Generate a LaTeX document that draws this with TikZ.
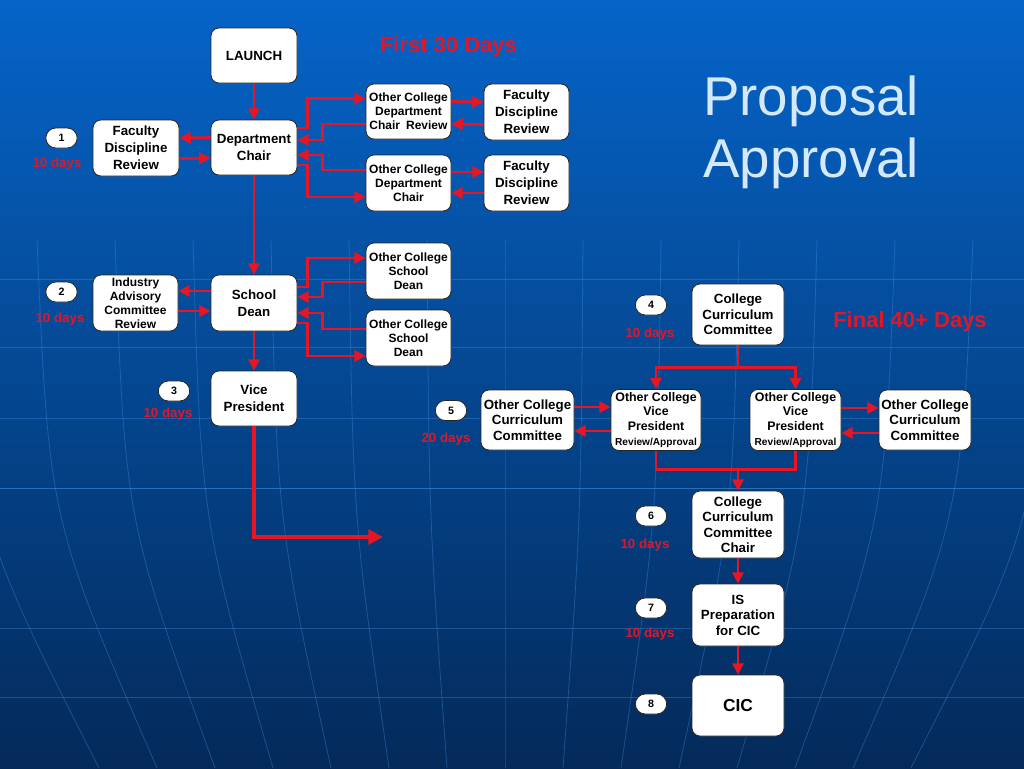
\documentclass[tikz,border=0pt]{standalone}
\usepackage{fontspec}
\setmainfont{Liberation Sans}
\usetikzlibrary{arrows.meta,calc}
\definecolor{bgtop}{RGB}{5,100,200}
\definecolor{bgmid}{RGB}{8,78,160}
\definecolor{bgbot}{RGB}{4,42,90}
\definecolor{gridc}{RGB}{70,150,235}
\definecolor{linered}{RGB}{232,22,36}
\definecolor{dayred}{RGB}{222,24,40}
\definecolor{titlec}{RGB}{212,234,252}
\begin{document}
\begin{tikzpicture}[x=0.75pt,y=-0.75pt,
  sz/.style 2 args={minimum width={#1*0.75pt},minimum height={#2*0.75pt}},
  box/.style={draw=black!85, line width=0.6pt, fill=white, rounded corners=6pt, inner sep=0pt, align=center, text=black, font=\bfseries\fontsize{10}{12.75}\selectfont},
  sbox/.style={box, font=\bfseries\fontsize{9}{10.5}\selectfont},
  rbox/.style={box, font=\bfseries\fontsize{10}{11.6}\selectfont},
  vbox/.style={box, font=\bfseries\fontsize{9.3}{11.2}\selectfont},
  bub/.style={draw=black!85, line width=0.6pt, fill=white, rounded corners=7.5pt, minimum width=23.5pt, minimum height=15pt, inner sep=0pt, text=black, font=\bfseries\fontsize{8}{9}\selectfont},
  days/.style={text=dayred, font=\bfseries\fontsize{10}{12}\selectfont, inner sep=0pt},
  phase/.style={text=dayred, font=\bfseries\fontsize{16.5}{18}\selectfont, inner sep=0pt},
  ttl/.style={font=\fontsize{41}{46}\selectfont, inner sep=0pt, anchor=base west},
  arr/.style={draw=linered, line width=2pt, -{Triangle[length=8.5pt,width=8.5pt]}},
  ln/.style={draw=linered, line width=2pt},
  bigarr/.style={draw=linered, line width=3pt, -{Triangle[length=11pt,width=11pt]}},
  gridl/.style={draw=gridc, line width=0.6pt, opacity=0.35},
]
\useasboundingbox (0,0) rectangle (1024,768);
% background
\shade[top color=bgtop, middle color=bgmid, bottom color=bgbot] (0,0) rectangle (1024,768);
\begin{scope}
\clip (0,0) rectangle (1024,768);
\foreach \yy in {279,347,418,628,697} {\draw[gridl] (0,\yy) -- (1024,\yy);}
\draw[gridl, opacity=0.55] (0,488) -- (1024,488);
\foreach \i in {-7,...,7} {
  \draw[gridl] ({505+78*\i},240) .. controls ({505+76*\i},520) .. ({505+58*\i},768);
}
\end{scope}
% title
\node[ttl, text=titlec] (t1) at (703,115) {Proposal};
\node[ttl, text=titlec] (t2) at (703,177) {Approval};
% phase labels
\node[phase, anchor=base] (p1) at (448.5,52) {First 30 Days};
\node[phase, anchor=base] (p2) at (910,327) {Final 40+ Days};
% left column
\node[box, sz={86}{55}] (launch) at (254,55.5) {LAUNCH};
\node[box, sz={86}{55}] (dept) at (254,147.5) {Department\\Chair};
\node[box, sz={86}{56}] (fdrL) at (136,148) {Faculty\\Discipline\\Review};
\node[sbox, sz={85}{55}] (ocdcr) at (408.5,111.5) {Other College\\Department\\Chair\enspace Review};
\node[box, sz={85}{56}] (fdr1) at (526.5,112) {Faculty\\Discipline\\Review};
\node[sbox, sz={85}{56}] (ocdc) at (408.5,183) {Other College\\Department\\Chair};
\node[box, sz={85}{56}] (fdr2) at (526.5,183) {Faculty\\Discipline\\Review};
\node[box, sz={86}{56}] (sdean) at (254,303) {School\\Dean};
\node[sbox, sz={85}{56}] (iacr) at (135.5,303) {Industry\\Advisory\\Committee\\Review};
\node[sbox, sz={85}{56}] (ocsd1) at (408.5,271) {Other College\\School\\Dean};
\node[sbox, sz={85}{56}] (ocsd2) at (408.5,338) {Other College\\School\\Dean};
\node[box, sz={86}{55}] (vp) at (254,398.5) {Vice\\President};
% right part
\node[rbox, sz={92}{61}] (ccc) at (738,314.5) {College\\Curriculum\\Committee};
\node[rbox, sz={93}{60}] (occcL) at (527.5,420) {Other College\\Curriculum\\Committee};
\node[vbox, sz={90}{61}] (vpL) at (656,420) {Other College\\Vice\\President\\{\fontsize{7.6}{9}\selectfont Review/Approval}};
\node[vbox, sz={91}{61}] (vpR) at (795.5,420) {Other College\\Vice\\President\\{\fontsize{7.6}{9}\selectfont Review/Approval}};
\node[rbox, sz={92}{60}] (occcR) at (925,420) {Other College\\Curriculum\\Committee};
\node[rbox, sz={92}{67}] (cccc) at (738,524.5) {College\\Curriculum\\Committee\\Chair};
\node[rbox, sz={92}{62}] (is) at (738,615) {IS\\Preparation\\for CIC};
\node[box, sz={92}{61}, font=\bfseries\fontsize{13}{15}\selectfont] (cic) at (738,705.5) {CIC};
% bubbles and day labels
\node[bub] (b1) at (61.5,138) {1};
\node[bub] (b2) at (61.5,292) {2};
\node[bub] (b3) at (174,391) {3};
\node[bub] (b4) at (651,305) {4};
\node[bub] (b5) at (451,410.5) {5};
\node[bub] (b6) at (651,516) {6};
\node[bub] (b7) at (651,608) {7};
\node[bub] (b8) at (651,704) {8};
\node[days] (d1) at (57,164.5) {10 days};
\node[days] (d2) at (60,319) {10 days};
\node[days] (d3) at (168,414) {10 days};
\node[days] (d4) at (650,334) {10 days};
\node[days] (d5) at (446,439) {20 days};
\node[days] (d6) at (645,545) {10 days};
\node[days] (d7) at (650,634) {10 days};
% connectors: department chair level
\draw[arr] (launch.south) -- (dept.north);
\draw[arr] ($(dept.west)+(0,-10)$) -- ($(fdrL.east)+(0,-10)$);
\draw[arr] ($(fdrL.east)+(0,10.5)$) -- ($(dept.west)+(0,10.5)$);
\draw[arr] ($(dept.east)+(0,-19.5)$) -- ++(10,0) |- ($(ocdcr.west)+(0,-13)$);
\draw[arr] ($(ocdcr.west)+(0,12.5)$) -- ++(-43,0) |- ($(dept.east)+(0,-7.5)$);
\draw[arr] ($(ocdc.west)+(0,-13)$) -- ++(-43,0) |- ($(dept.east)+(0,7.5)$);
\draw[arr] ($(dept.east)+(0,17.5)$) -- ++(10,0) |- ($(ocdc.west)+(0,14)$);
\draw[arr] ($(ocdcr.east)+(0,-10)$) -- ($(fdr1.west)+(0,-10)$);
\draw[arr] ($(fdr1.west)+(0,12.5)$) -- ($(ocdcr.east)+(0,12.5)$);
\draw[arr] ($(ocdc.east)+(0,-11)$) -- ($(fdr2.west)+(0,-11)$);
\draw[arr] ($(fdr2.west)+(0,10)$) -- ($(ocdc.east)+(0,10)$);
% school dean level
\draw[arr] (dept.south) -- (sdean.north);
\draw[arr] ($(sdean.west)+(0,-12)$) -- ($(iacr.east)+(0,-12)$);
\draw[arr] ($(iacr.east)+(0,8)$) -- ($(sdean.west)+(0,8)$);
\draw[arr] ($(sdean.east)+(0,-16)$) -- ++(10,0) |- ($(ocsd1.west)+(0,-13)$);
\draw[arr] ($(ocsd1.west)+(0,11)$) -- ++(-43,0) |- ($(sdean.east)+(0,-6)$);
\draw[arr] ($(ocsd2.west)+(0,-9)$) -- ++(-43,0) |- ($(sdean.east)+(0,10)$);
\draw[arr] ($(sdean.east)+(0,20)$) -- ++(10,0) |- ($(ocsd2.west)+(0,18)$);
\draw[arr] (sdean.south) -- (vp.north);
\coordinate (vpend) at (383,537);
\draw[bigarr] (vp.south) |- (vpend);
% final phase
\draw[ln] (ccc.south) -- ++(0,22) coordinate (split);
\draw[arr] (split) -| (vpL.north);
\draw[arr] (split) -| (vpR.north);
\draw[arr] ($(occcL.east)+(0,-13)$) -- ($(vpL.west)+(0,-13)$);
\draw[arr] ($(vpL.west)+(0,11)$) -- ($(occcL.east)+(0,11)$);
\draw[arr] ($(vpR.east)+(0,-12)$) -- ($(occcR.west)+(0,-12)$);
\draw[arr] ($(occcR.west)+(0,13)$) -- ($(vpR.east)+(0,13)$);
\draw[ln] (vpL.south) -- ++(0,18.5) -| (vpR.south);
\coordinate (merge) at (738,469);
\draw[arr] (merge) -- (cccc.north);
\draw[arr] (cccc.south) -- (is.north);
\draw[arr] (is.south) -- (cic.north);
\end{tikzpicture}
\end{document}
